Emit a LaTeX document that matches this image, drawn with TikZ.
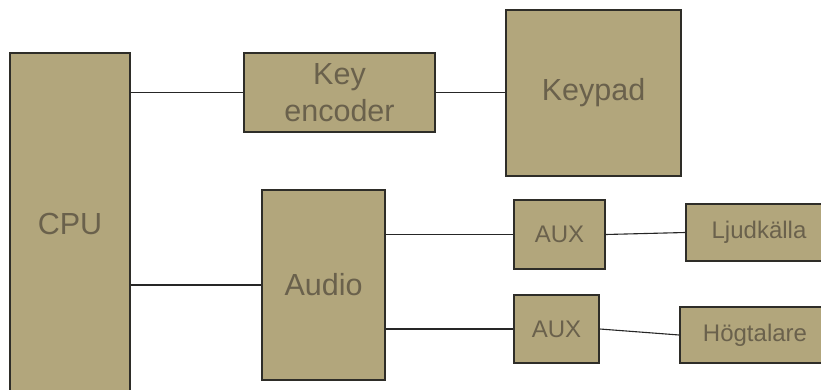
\documentclass[tikz,border=0pt]{standalone}
\usepackage{fontspec}
\setmainfont{Liberation Sans}
\usepackage{xcolor}
\usepackage{tikz}

\definecolor{boxfill}{HTML}{B2A67C}
\definecolor{boxtext}{HTML}{6A614C}
\definecolor{boxline}{HTML}{2E2D28}

\tikzset{
  block/.style={draw=boxline, line width=1.6pt, rectangle, fill=boxfill, text=boxtext,
    inner sep=0pt, align=center, font=\fontsize{30.5}{37}\selectfont},
  small/.style={block, font=\fontsize{24}{28}\selectfont},
  wire/.style={draw=black!85, line width=1.1pt}
}

\begin{document}
\begin{tikzpicture}[x=1pt, y=1pt]
  \useasboundingbox (0,0) rectangle (821,389);
  \clip (0,0) rectangle (821,389);

  \node (cpu) [block, minimum width=120pt, minimum height=342pt] at (70,165) {CPU};
  \node (ke) [block, minimum width=191pt, minimum height=79pt] at (339.5,296.5) {Key\\encoder};
  \node (keypad) [block, minimum width=175pt, minimum height=166pt] at (593.5,296) {Keypad};
  \node (audio) [block, minimum width=123pt, minimum height=190pt] at (323.5,104) {Audio};

  \node (aux1) [small, minimum width=91pt, minimum height=69pt] at (559.5,154.5) {AUX};
  \node (aux2) [small, minimum width=85pt, minimum height=68pt] at (556.5,60) {AUX};
  \node (ljud) [small, minimum width=146pt, minimum height=57pt] at (759,156.5) {Ljudkälla};
  \node (hog) [small, minimum width=150pt, minimum height=56pt] at (755,54) {Högtalare};

  % connections
  \draw [wire] (cpu.east |- ke.west) -- (ke.west);
  \draw [wire] (ke.east) -- (keypad.west |- ke.east);
  \draw [wire] (cpu.east |- audio.west) -- (audio.west);
  \draw [wire] (audio.east |- aux1.west) -- (aux1.west);
  \draw [wire] (audio.east |- aux2.west) -- (aux2.west);
  \draw [wire] (aux1.east) -- (ljud.west);
  \draw [wire] (aux2.east) -- (hog.west);
\end{tikzpicture}
\end{document}
